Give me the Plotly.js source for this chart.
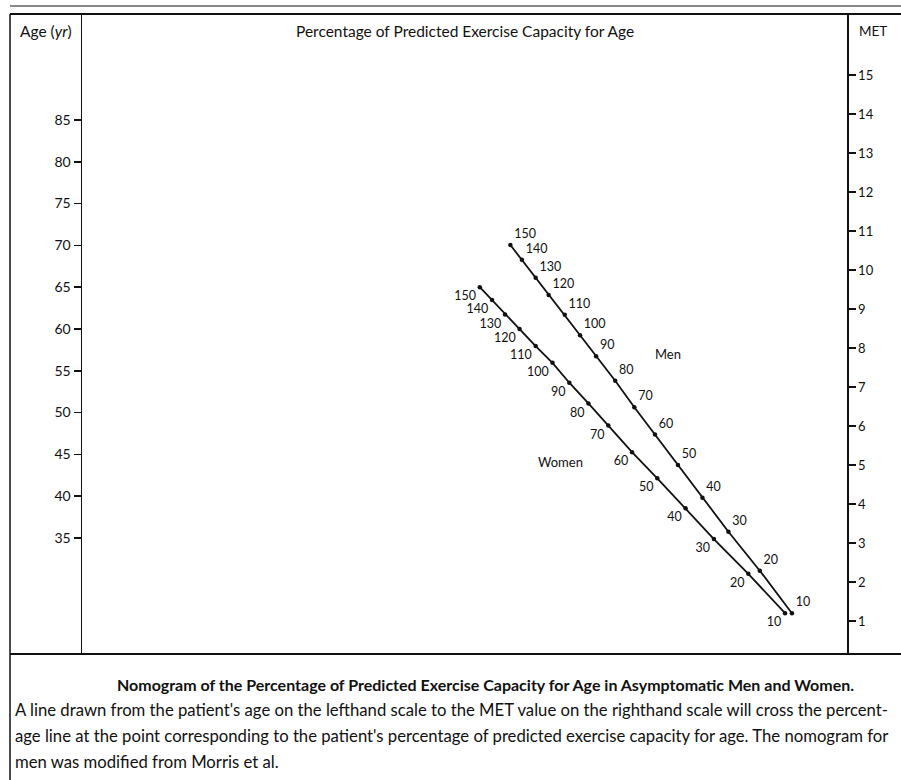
<!DOCTYPE html>
<html>
<head>
<meta charset="utf-8">
<script src="https://cdn.plot.ly/plotly-3.0.1.min.js"></script>
<style>html,body{margin:0;padding:0;background:#fff;}#chart{width:901px;height:780px;}</style>
</head>
<body>
<div id="chart"></div>
<script>
// Percentage labels along each nomogram line
var pctLabels = ["150","140","130","120","110","100","90","80","70","60","50","40","30","20","10"];
// Horizontal position (0 = age scale, 100 = MET scale) and MET-scale height of each mark
var menPos = [56.0, 57.5, 59.3, 61.0, 63.1, 65.1, 67.2, 69.7, 72.2, 74.9, 77.9, 81.1, 84.5, 88.6, 92.8];
var menMet = [10.64, 10.26, 9.80, 9.36, 8.85, 8.33, 7.79, 7.16, 6.48, 5.78, 5.00, 4.16, 3.29, 2.29, 1.20];
var womenPos = [52.0, 53.6, 55.3, 57.2, 59.3, 61.5, 63.7, 66.2, 68.8, 71.9, 75.2, 78.9, 82.6, 87.1, 91.9];
var womenMet = [9.56, 9.23, 8.86, 8.49, 8.05, 7.62, 7.11, 6.58, 6.01, 5.33, 4.66, 3.89, 3.10, 2.21, 1.20];
// Scales
var ageTicks = [35, 40, 45, 50, 55, 60, 65, 70, 75, 80, 85];
var metTicks = [1,2,3,4,5,6,7,8,9,10,11,12,13,14,15];

var FONT = "Lato, 'Open Sans', sans-serif";
var INK = "#111";

var traces = [
  {
    // invisible carrier so the age scale (left axis) is drawn
    x: ageTicks.map(function(){ return 0; }), y: ageTicks, yaxis: "y", mode: "markers",
    marker: {opacity: 0}, hoverinfo: "skip", showlegend: false
  },
  {
    x: menPos, y: menMet, yaxis: "y2", mode: "lines+markers+text",
    text: pctLabels, textposition: "top right",
    textfont: {family: FONT, size: 12.5, color: INK},
    line: {color: INK, width: 1.8}, marker: {color: INK, size: 4.5},
    hoverinfo: "skip", showlegend: false
  },
  {
    x: womenPos, y: womenMet, yaxis: "y2", mode: "lines+markers+text",
    text: pctLabels, textposition: "bottom left",
    textfont: {family: FONT, size: 12.5, color: INK},
    line: {color: INK, width: 1.8}, marker: {color: INK, size: 4.5},
    hoverinfo: "skip", showlegend: false
  }
];

var L = -0.0941, R = 1.0706;
var layout = {
  width: 901, height: 780,
  margin: {l: 82, r: 54, t: 14, b: 126},
  paper_bgcolor: "#fff", plot_bgcolor: "#fff",
  font: {family: FONT, color: INK},
  xaxis: {range: [0, 100], visible: false, fixedrange: true},
  yaxis: {
    range: [21.12, 97.68], side: "left", tickmode: "array", tickvals: ageTicks,
    ticks: "outside", ticklen: 7, tickwidth: 1.5, tickcolor: INK,
    showline: true, linecolor: INK, linewidth: 1.5, showgrid: false, zeroline: false,
    tickfont: {family: FONT, size: 14, color: INK}, fixedrange: true
  },
  yaxis2: {
    range: [0.154, 16.564], side: "right", overlaying: "y", tickmode: "array", tickvals: metTicks,
    ticks: "outside", ticklen: 7, tickwidth: 1.5, tickcolor: INK,
    showline: true, linecolor: INK, linewidth: 1.5, showgrid: false, zeroline: false,
    tickfont: {family: FONT, size: 13, color: INK}, fixedrange: true
  },
  shapes: [
    {type: "line", xref: "paper", yref: "paper", x0: L, x1: R, y0: 1.0125, y1: 1.0125, line: {color: INK, width: 1}},
    {type: "line", xref: "paper", yref: "paper", x0: L, x1: R, y0: 1.0, y1: 1.0, line: {color: INK, width: 2}},
    {type: "line", xref: "paper", yref: "paper", x0: L, x1: L, y0: 1.0, y1: -0.2, line: {color: INK, width: 1.5}},
    {type: "line", xref: "paper", yref: "paper", x0: L, x1: R, y0: 0, y1: 0, line: {color: INK, width: 2}}
  ],
  annotations: [
    {text: "Percentage of Predicted Exercise Capacity for Age", xref: "paper", yref: "paper", x: 0.5007, y: 0.973,
     showarrow: false, font: {family: FONT, size: 15.5, color: INK}, xanchor: "center", yanchor: "middle"},
    {text: "Age (<i>yr</i>)", xref: "paper", yref: "paper", x: -0.047, y: 0.973,
     showarrow: false, font: {family: FONT, size: 15.5, color: INK}, xanchor: "center", yanchor: "middle"},
    {text: "MET", xref: "paper", yref: "paper", x: 1.034, y: 0.973,
     showarrow: false, font: {family: FONT, size: 13.5, color: INK}, xanchor: "center", yanchor: "middle"},
    {text: "Men", xref: "x", yref: "y2", x: 76.6, y: 7.85, showarrow: false,
     font: {family: FONT, size: 13, color: INK}},
    {text: "Women", xref: "x", yref: "y2", x: 62.5, y: 5.08, showarrow: false,
     font: {family: FONT, size: 13, color: INK}},
    {text: "<b>Nomogram of the Percentage of Predicted Exercise Capacity for Age in Asymptomatic Men and Women.</b>",
     xref: "paper", yref: "paper", x: 0.527, y: -0.0469, showarrow: false,
     font: {family: FONT, size: 16, color: INK}, xanchor: "center", yanchor: "middle"},
    {text: "A line drawn from the patient's age on the lefthand scale to the MET value on the righthand scale will cross the percent-",
     xref: "paper", yref: "paper", x: -0.0902, y: -0.0875, showarrow: false,
     font: {family: FONT, size: 16.7, color: INK}, xanchor: "left", yanchor: "middle"},
    {text: "age line at the point corresponding to the patient's percentage of predicted exercise capacity for age. The nomogram for",
     xref: "paper", yref: "paper", x: -0.0902, y: -0.1281, showarrow: false,
     font: {family: FONT, size: 16.7, color: INK}, xanchor: "left", yanchor: "middle"},
    {text: "men was modified from Morris et al.",
     xref: "paper", yref: "paper", x: -0.0902, y: -0.1688, showarrow: false,
     font: {family: FONT, size: 16.7, color: INK}, xanchor: "left", yanchor: "middle"}
  ]
};

Plotly.newPlot("chart", traces, layout, {staticPlot: true, displayModeBar: false});
</script>
</body>
</html>
